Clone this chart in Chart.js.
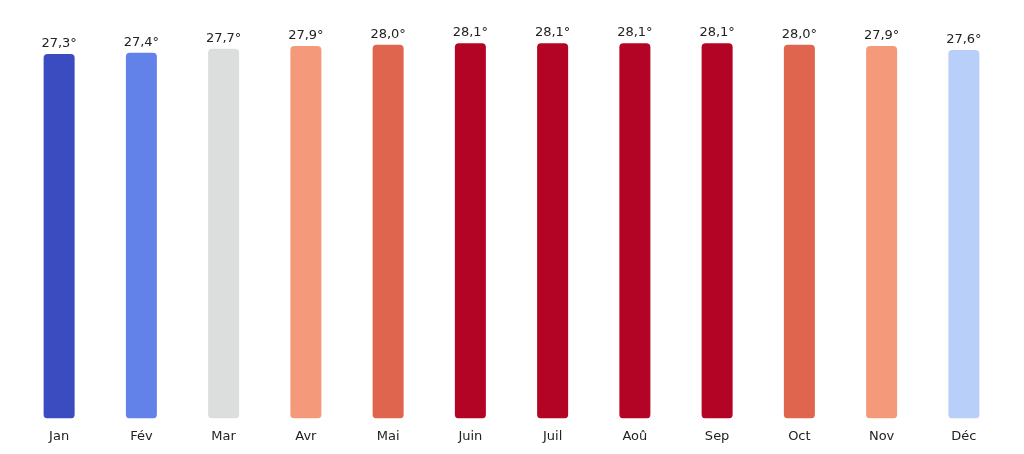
<!DOCTYPE html>
<html>
<head>
<meta charset="utf-8">
<script src="https://cdn.jsdelivr.net/npm/chart.js@4"></script>
<style>
  html, body { margin: 0; background: #fff; }
  #wrap { width: 1024px; height: 454px; }
</style>
</head>
<body>
<div id="wrap"><canvas id="chart"></canvas></div>
<script>
const months = ["Jan", "Fév", "Mar", "Avr", "Mai", "Juin", "Juil", "Aoû", "Sep", "Oct", "Nov", "Déc"];
const temps = [27.3, 27.4, 27.7, 27.9, 28.0, 28.1, 28.1, 28.1, 28.1, 28.0, 27.9, 27.6];
const colors = ["#3b4cc0", "#6282ea", "#dcdddd", "#f49a7b", "#e0654f", "#b40426",
  "#b40426", "#b40426", "#b40426", "#e0654f", "#f49a7b", "#b8d0f9"];

// étiquettes de valeur au-dessus des barres
const valueLabels = {
  id: "valueLabels",
  afterDatasetsDraw(chart) {
    const ctx = chart.ctx;
    const meta = chart.getDatasetMeta(0);
    ctx.save();
    ctx.font = "13px 'DejaVu Sans'";
    ctx.fillStyle = "#222";
    ctx.textAlign = "center";
    ctx.textBaseline = "bottom";
    meta.data.forEach((bar, i) => {
      ctx.fillText(temps[i].toFixed(1).replace(".", ",") + "°", bar.x, bar.y - 4);
    });
    ctx.restore();
  }
};

new Chart(document.getElementById("chart"), {
  type: "bar",
  data: {
    labels: months,
    datasets: [{
      data: temps,
      backgroundColor: colors,
      borderRadius: 4,
      borderSkipped: false,
      barPercentage: 0.377,
      categoryPercentage: 1
    }]
  },
  options: {
    responsive: true,
    maintainAspectRatio: false,
    animation: false,
    layout: { padding: { left: 18, right: 19, top: 18, bottom: 8 } },
    plugins: { legend: { display: false }, tooltip: { enabled: false } },
    scales: {
      x: {
        grid: { display: false, drawTicks: true },
        border: { display: false },
        ticks: { color: "#222", font: { family: "DejaVu Sans", size: 13 }, padding: 2 }
      },
      y: { display: false, min: 0, max: 30 }
    }
  },
  plugins: [valueLabels]
});
</script>
</body>
</html>
